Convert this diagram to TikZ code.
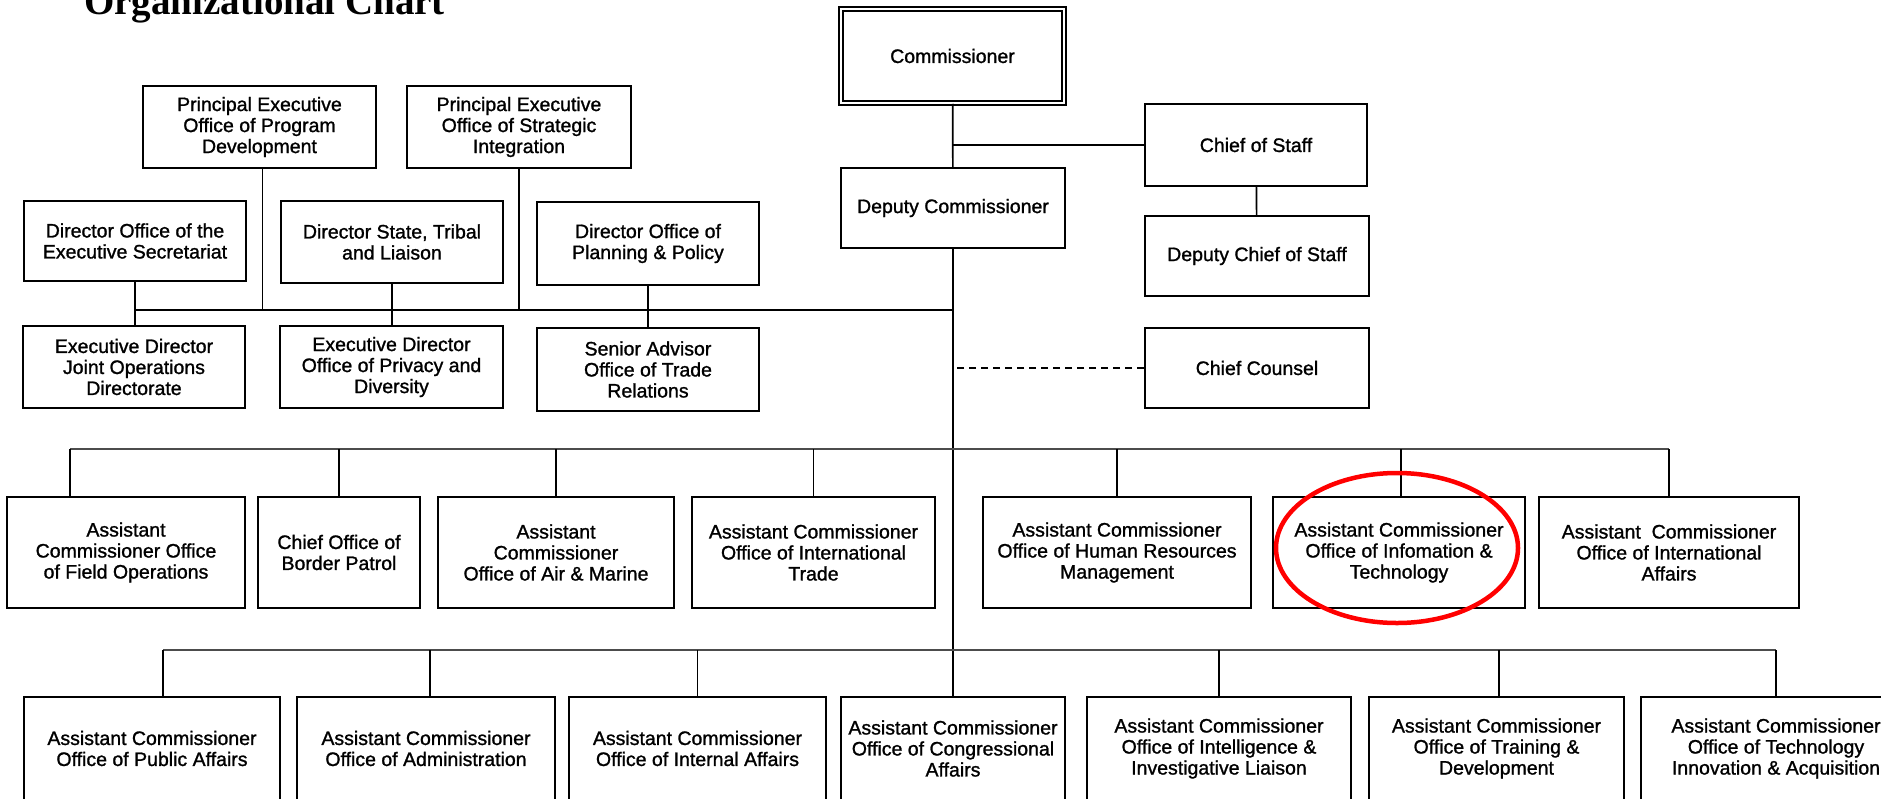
\documentclass[tikz,border=0pt]{standalone}
\usepackage{fontspec}
\setmainfont{Liberation Sans}[FakeBold=1.2]
\newfontfamily\titlefont{Liberation Serif}
\begin{document}
\begin{tikzpicture}[x=1pt,y=-1pt,
  box/.style={draw=black, line width=1.8pt, align=center, inner sep=0pt,
    font=\fontsize{19.5}{21}\selectfont},
  conn/.style={draw=black, line width=1.7pt},
  bus/.style={draw=black!70, line width=2.4pt},
  dashconn/.style={draw=black, line width=1.6pt, dash pattern=on 7pt off 5pt},
  dbl/.style={double=white, double distance=2.4pt, line width=1.5pt},
]
\useasboundingbox (0,0) rectangle (1881,798);
\clip (0,0) rectangle (1881,798);

% title
\node[anchor=base west, inner sep=0pt, font=\titlefont\bfseries\fontsize{39}{40}\selectfont] (title) at (84,14) {Organizational Chart};

% top
\node[box, dbl, minimum width=223pt, minimum height=94pt] (comm) at (952.5,56) {Commissioner};
\node[box, minimum width=222pt, minimum height=82pt] (cos) at (1256,145) {Chief of Staff};
\node[box, minimum width=224pt, minimum height=80pt] (depc) at (953,208) {Deputy Commissioner};
\node[box, minimum width=224pt, minimum height=80pt] (dcos) at (1257,256) {Deputy Chief of Staff};
\node[box, minimum width=224pt, minimum height=80pt] (cc) at (1257,368) {Chief Counsel};

% left cluster
\node[box, minimum width=233pt, minimum height=82pt] (peopd) at (259.5,127) {Principal Executive\\Office of Program\\Development};
\node[box, minimum width=224pt, minimum height=82pt] (peosi) at (519,127) {Principal Executive\\Office of Strategic\\Integration};
\node[box, minimum width=222pt, minimum height=80pt] (does) at (135,241) {Director Office of the\\Executive Secretariat};
\node[box, minimum width=222pt, minimum height=82pt] (dstl) at (392,242) {Director State, Tribal\\and Liaison};
\node[box, minimum width=222pt, minimum height=83pt] (dopp) at (648,243.5) {Director Office of\\Planning \& Policy};
\node[box, minimum width=222pt, minimum height=82pt] (edjod) at (134,367) {Executive Director\\Joint Operations\\Directorate};
\node[box, minimum width=223pt, minimum height=82pt] (edopd) at (391.5,367) {Executive Director\\Office of Privacy and\\Diversity};
\node[box, minimum width=222pt, minimum height=83pt] (saotr) at (648,369.5) {Senior Advisor\\Office of Trade\\Relations};

% row 1
\node[box, minimum width=238pt, minimum height=111pt] (ofo) at (126,552.5) {Assistant\\Commissioner Office\\of Field Operations};
\node[box, minimum width=162pt, minimum height=111pt] (bp) at (339,552.5) {Chief Office of\\Border Patrol};
\node[box, minimum width=236pt, minimum height=111pt] (am) at (556,552.5) {Assistant\\Commissioner\\Office of Air \& Marine};
\node[box, minimum width=243pt, minimum height=111pt] (it) at (813.5,552.5) {Assistant Commissioner\\Office of International\\Trade};
\node[box, minimum width=268pt, minimum height=111pt] (hrm) at (1117,552.5) {Assistant Commissioner\\Office of Human Resources\\Management};
\node[box, minimum width=252pt, minimum height=111pt] (oit) at (1399,552.5) {Assistant Commissioner\\Office of Infomation \&\\Technology};
\node[box, minimum width=260pt, minimum height=111pt] (ia) at (1669,552.5) {Assistant\ \ Commissioner\\Office of International\\Affairs};

% row 2
\node[box, minimum width=256pt, minimum height=103pt] (pa) at (152,748.5) {Assistant Commissioner\\Office of Public Affairs};
\node[box, minimum width=258pt, minimum height=103pt] (adm) at (426,748.5) {Assistant Commissioner\\Office of Administration};
\node[box, minimum width=257pt, minimum height=103pt] (inta) at (697.5,748.5) {Assistant Commissioner\\Office of Internal Affairs};
\node[box, minimum width=224pt, minimum height=103pt] (cong) at (953,748.5) {Assistant Commissioner\\Office of Congressional\\Affairs};
\node[box, minimum width=264pt, minimum height=103pt] (intel) at (1219,748.5) {Assistant Commissioner\\Office of Intelligence \&\\Investigative Liaison};
\node[box, minimum width=255pt, minimum height=103pt] (trn) at (1496.5,748.5) {Assistant Commissioner\\Office of Training \&\\Development};
\node[box, minimum width=270pt, minimum height=103pt] (tia) at (1776,748.5) {Assistant Commissioner\\Office of Technology\\Innovation \& Acquisition};

% junctions
\coordinate (b0) at (953,310);
\coordinate (b1) at (953,449);
\coordinate (b2) at (953,650);

% top connectors
\draw[conn] (comm) -- (depc);
\draw[conn] (depc) -- (cong);
\draw[conn] (cos.west) -- (cos.west -| comm.south);
\draw[conn] (cos) -- (dcos);
\draw[dashconn] (cc.west) -- (cc.west -| depc.south);

% left cluster connectors
\draw[conn] (does.south |- b0) -- (b0);
\draw[conn] (does.south) -- (does.south |- edjod.north);
\draw[conn] (dstl.south) -- (dstl.south |- edopd.north);
\draw[conn] (dopp.south) -- (dopp.south |- saotr.north);
\draw[conn] ([xshift=3pt]peopd.south) -- ([xshift=3pt]peopd.south |- b0);
\draw[conn] (peosi.south) -- (peosi.south |- b0);

% row 1 connectors
\draw[bus] ([xshift=-56pt]ofo.north |- b1) -- (ia.north |- b1);
\draw[conn] ([xshift=-56pt]ofo.north) -- ([xshift=-56pt]ofo.north |- b1);
\foreach \n in {bp,am,it,hrm,ia} {
  \draw[conn] (\n.north) -- (\n.north |- b1);
}
\draw[conn] ([xshift=2pt]oit.north) -- ([xshift=2pt]oit.north |- b1);

% row 2 connectors
\draw[bus] ([xshift=11pt]pa.north |- b2) -- (tia.north |- b2);
\draw[conn] ([xshift=11pt]pa.north) -- ([xshift=11pt]pa.north |- b2);
\draw[conn] ([xshift=4pt]adm.north) -- ([xshift=4pt]adm.north |- b2);
\foreach \n in {inta,intel,tia} {
  \draw[conn] (\n.north) -- (\n.north |- b2);
}
\draw[conn] ([xshift=2.5pt]trn.north) -- ([xshift=2.5pt]trn.north |- b2);

% highlight
\draw[red, line width=4.5pt] (1397,548) ellipse [x radius=121pt, y radius=75pt];
\end{tikzpicture}
\end{document}
